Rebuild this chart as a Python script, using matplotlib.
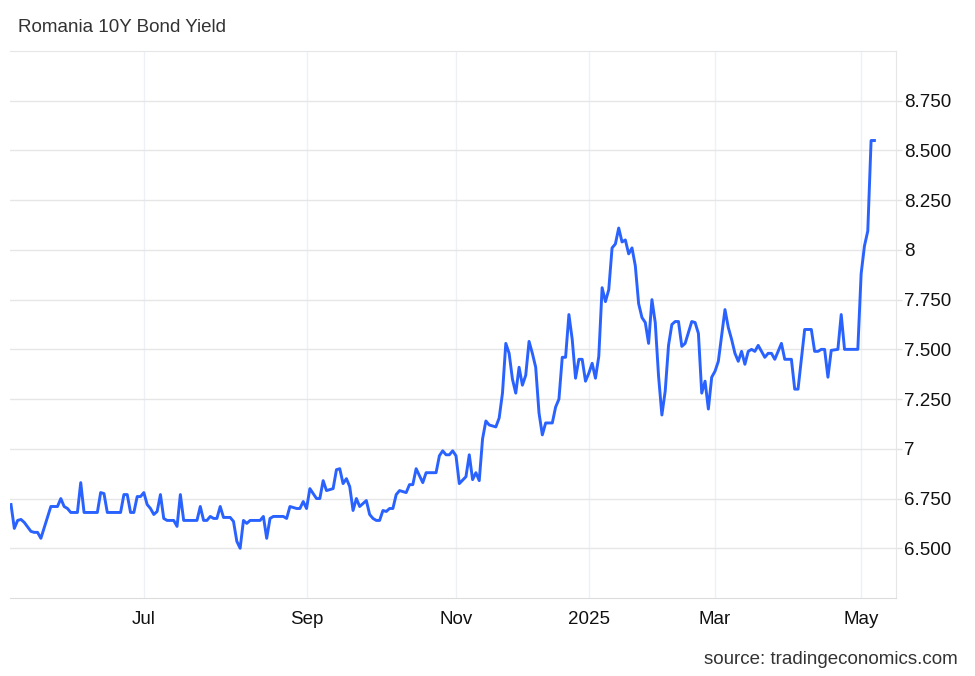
import matplotlib
matplotlib.use("Agg")
import matplotlib.pyplot as plt

# Romania 10Y bond yield
# x = observation number (trading-day index), only the turning points are kept
obs = [0, 1, 2, 3, 4, 6, 7, 8, 9, 12, 14, 15, 16, 17, 18, 20, 21, 22, 26, 27,
       28, 29, 33, 34, 35, 36, 37, 38, 39, 40, 41, 42, 43, 44, 45, 46, 47, 49, 50, 51,
       52, 56, 57, 58, 59, 60, 61, 62, 63, 64, 66, 67, 68, 69, 70, 71, 72, 75, 76, 77,
       78, 79, 82, 83, 84, 86, 87, 88, 89, 90, 92, 93, 94, 95, 97, 98, 99, 100, 101, 102,
       103, 104, 105, 107, 108, 109, 110, 111, 112, 113, 114, 115, 116, 117, 119, 120, 121, 122, 124, 125,
       128, 129, 130, 131, 132, 133, 134, 135, 137, 138, 139, 140, 141, 142, 143, 144, 146, 147, 148, 149,
       150, 151, 152, 153, 154, 155, 156, 157, 158, 159, 160, 161, 163, 164, 165, 166, 167, 168, 169, 170,
       171, 172, 173, 174, 175, 176, 177, 178, 179, 180, 181, 182, 183, 184, 185, 186, 187, 188, 189, 190,
       191, 192, 193, 194, 195, 196, 197, 198, 199, 200, 201, 202, 203, 205, 206, 207, 208, 209, 210, 211,
       212, 213, 215, 216, 217, 218, 219, 220, 221, 222, 223, 224, 225, 227, 228, 229, 230, 232, 233, 235,
       236, 237, 239, 241, 242, 243, 244, 245, 246, 247, 249, 250, 251, 255, 256, 257, 258, 259, 260]
yield_pct = [6.72, 6.60, 6.64, 6.645, 6.63, 6.585, 6.58, 6.58, 6.55, 6.71, 6.71, 6.75, 6.71, 6.70, 6.68, 6.68, 6.83, 6.68, 6.68, 6.78,
             6.775, 6.68, 6.68, 6.77, 6.77, 6.68, 6.68, 6.76, 6.76, 6.78, 6.72, 6.70, 6.67, 6.685, 6.77, 6.65, 6.64, 6.64, 6.61, 6.77,
             6.64, 6.64, 6.71, 6.64, 6.64, 6.66, 6.65, 6.65, 6.71, 6.655, 6.655, 6.635, 6.535, 6.50, 6.64, 6.625, 6.64, 6.64, 6.66, 6.55,
             6.65, 6.66, 6.66, 6.65, 6.71, 6.70, 6.70, 6.735, 6.70, 6.80, 6.75, 6.75, 6.84, 6.79, 6.80, 6.895, 6.90, 6.825, 6.85, 6.81,
             6.69, 6.75, 6.71, 6.74, 6.67, 6.65, 6.64, 6.64, 6.69, 6.685, 6.70, 6.70, 6.77, 6.79, 6.78, 6.82, 6.82, 6.90, 6.83, 6.88,
             6.88, 6.965, 6.99, 6.97, 6.97, 6.99, 6.965, 6.825, 6.86, 6.97, 6.845, 6.88, 6.84, 7.05, 7.14, 7.12, 7.11, 7.155, 7.28, 7.53,
             7.48, 7.35, 7.28, 7.41, 7.32, 7.37, 7.54, 7.48, 7.41, 7.18, 7.07, 7.13, 7.13, 7.21, 7.25, 7.46, 7.46, 7.675, 7.55, 7.355,
             7.45, 7.45, 7.34, 7.38, 7.43, 7.355, 7.465, 7.81, 7.74, 7.80, 8.01, 8.03, 8.11, 8.04, 8.05, 7.98, 8.01, 7.92, 7.73, 7.66,
             7.635, 7.53, 7.75, 7.635, 7.365, 7.17, 7.29, 7.52, 7.625, 7.64, 7.64, 7.515, 7.53, 7.64, 7.635, 7.58, 7.28, 7.34, 7.20, 7.36,
             7.39, 7.44, 7.70, 7.61, 7.55, 7.48, 7.44, 7.49, 7.425, 7.49, 7.50, 7.49, 7.52, 7.46, 7.48, 7.48, 7.45, 7.53, 7.45, 7.45,
             7.30, 7.30, 7.60, 7.60, 7.49, 7.49, 7.50, 7.50, 7.36, 7.495, 7.50, 7.675, 7.50, 7.50, 7.88, 8.02, 8.095, 8.55, 8.55]

# first observation of each labelled month
month_obs = [40, 89, 134, 174, 212, 256]
month_labels = ["Jul", "Sep", "Nov", "2025", "Mar", "May"]

y_ticks = [6.5, 6.75, 7.0, 7.25, 7.5, 7.75, 8.0, 8.25, 8.5, 8.75]
y_labels = ["6.500", "6.750", "7", "7.250", "7.500", "7.750", "8", "8.250", "8.500", "8.750"]

plt.rcParams['font.family'] = ['Liberation Sans', 'DejaVu Sans']

W, H = 975, 676
fig = plt.figure(figsize=(W / 100, H / 100), dpi=100)
ax = fig.add_axes([10 / W, 1 - 598 / H, (896 - 10) / W, (598 - 51) / H])

ax.plot(obs, yield_pct, color='#2962ff', lw=2.1, solid_joinstyle='round', zorder=3)

ax.set_xlim(-0.3, 266.5)
ax.set_ylim(6.25, 9.0)

ax.set_xticks(month_obs)
ax.set_xticklabels(month_labels)
ax.set_yticks(y_ticks)
ax.set_yticklabels(y_labels)

ax.yaxis.tick_right()
ax.tick_params(axis='x', length=0, pad=9, labelsize=13.5, labelcolor='#111111')
ax.tick_params(axis='y', length=4, width=1, color='#e3e3e3', pad=2, labelsize=13.5, labelcolor='#111111')

ax.grid(axis='y', color='#e6e6e6', lw=1)
ax.grid(axis='x', color='#edf1f6', lw=1)
ax.set_axisbelow(True)

ax.spines['left'].set_visible(False)
ax.spines['top'].set_color('#e6e6e6')
ax.spines['right'].set_color('#e6e6e6')
ax.spines['bottom'].set_color('#dcdcdc')

fig.text(18 / W, 1 - 27 / H, "Romania 10Y Bond Yield", ha='left', va='center',
         fontsize=13.5, color='#333333')
fig.text(958 / W, 1 - 659 / H, "source: tradingeconomics.com", ha='right', va='center',
         fontsize=13.5, color='#333333')

fig.savefig('out.png', dpi=100, facecolor='white')
